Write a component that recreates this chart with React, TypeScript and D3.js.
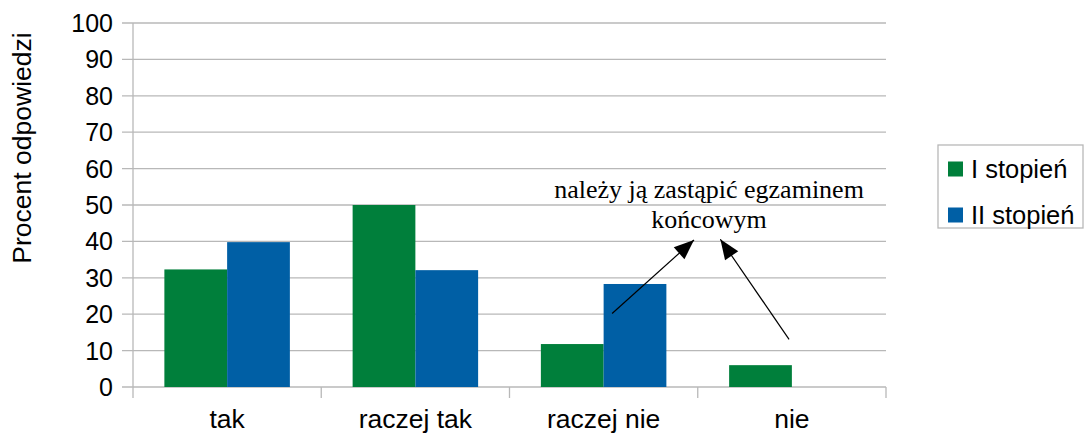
import React from "react";
import * as d3 from "d3";

const categories = ["tak", "raczej tak", "raczej nie", "nie"];
const seriesNames = ["I stopień", "II stopień"];
const seriesI = [32.3, 50, 11.8, 6];
const seriesII = [39.8, 32.1, 28.3, 0];
const yTicks = [0, 10, 20, 30, 40, 50, 60, 70, 80, 90, 100];
const colors = ["#007f3b", "#005fa5"];
const yLabel = "Procent odpowiedzi";
const noteLines = ["należy ją zastąpić egzaminem", "końcowym"];
// annotation anchors in (category units, value) space
const notePos = { cx: 3.06, y1: 51.9, y2: 43.6 };
const arrows = [
  { from: [2.545, 20.2], to: [2.98, 40.4] },
  { from: [3.485, 13.1], to: [3.12, 40.6] },
];

const W = 1084;
const H = 436;
const left = 133;
const right = 886;
const top = 23;
const bottom = 387;

export default function App() {
  const x0 = d3.scaleBand<string>().domain(categories).range([left, right]).padding(0);
  const x1 = d3
    .scaleBand<string>()
    .domain(seriesNames)
    .range([0, x0.bandwidth()])
    .paddingInner(0)
    .paddingOuter(0.5);
  const y = d3.scaleLinear().domain([0, 100]).range([bottom, top]);
  const xa = d3.scaleLinear().domain([0, 4]).range([left, right]);
  const values = [seriesI, seriesII];
  const grid = "#b8b8b8";
  const sans = "'Liberation Sans', Arial, sans-serif";
  const serif = "'Liberation Serif', 'Times New Roman', serif";

  const arrowHead = (fx: number, fy: number, tx: number, ty: number) => {
    const dx = tx - fx;
    const dy = ty - fy;
    const len = Math.sqrt(dx * dx + dy * dy);
    const ux = dx / len;
    const uy = dy / len;
    const hl = 20;
    const hw = 8;
    const bx = tx - ux * hl;
    const by = ty - uy * hl;
    return `${tx},${ty} ${bx - uy * hw},${by + ux * hw} ${bx + uy * hw},${by - ux * hw}`;
  };

  return (
    <div style={{ position: "absolute", left: 0, top: 0 }}>
      <svg width={W} height={H} style={{ display: "block", background: "#fff" }}>
        {/* gridlines & y ticks */}
        {yTicks.map((t) => (
          <g key={t}>
            <line x1={left - 11} x2={right} y1={y(t)} y2={y(t)} stroke={grid} strokeWidth={1.3} />
            <text
              x={113}
              y={y(t)}
              textAnchor="end"
              dominantBaseline="central"
              fontFamily={sans}
              fontSize={25}
              fill="#000"
            >
              {t}
            </text>
          </g>
        ))}
        {/* y axis line */}
        <line x1={left} x2={left} y1={top} y2={bottom + 11} stroke={grid} strokeWidth={1.3} />
        {/* category ticks */}
        {categories.map((c) => (
          <line
            key={c}
            x1={(x0(c) as number) + x0.bandwidth()}
            x2={(x0(c) as number) + x0.bandwidth()}
            y1={bottom}
            y2={bottom + 11}
            stroke={grid}
            strokeWidth={1.3}
          />
        ))}
        {/* bars */}
        {categories.map((c, i) => (
          <g key={c} transform={`translate(${x0(c)},0)`}>
            {seriesNames.map((s, j) => {
              const v = values[j][i];
              return (
                <rect
                  key={s}
                  x={x1(s)}
                  y={y(v)}
                  width={x1.bandwidth()}
                  height={y(0) - y(v)}
                  fill={colors[j]}
                />
              );
            })}
          </g>
        ))}
        {/* x labels */}
        {categories.map((c) => (
          <text
            key={c}
            x={(x0(c) as number) + x0.bandwidth() / 2}
            y={428}
            textAnchor="middle"
            fontFamily={sans}
            fontSize={26.5}
            fill="#000"
          >
            {c}
          </text>
        ))}
        {/* y label */}
        <text
          transform={`translate(22,148) rotate(-90)`}
          textAnchor="middle"
          dominantBaseline="central"
          fontFamily={sans}
          fontSize={26.5}
          fill="#000"
        >
          {yLabel}
        </text>
        {/* annotation */}
        <text
          x={xa(notePos.cx)}
          y={y(notePos.y1)}
          textAnchor="middle"
          fontFamily={serif}
          fontSize={26}
          fill="#000"
        >
          {noteLines[0]}
        </text>
        <text
          x={xa(notePos.cx)}
          y={y(notePos.y2)}
          textAnchor="middle"
          fontFamily={serif}
          fontSize={26}
          fill="#000"
        >
          {noteLines[1]}
        </text>
        {arrows.map((a, k) => {
          const fx = xa(a.from[0]);
          const fy = y(a.from[1]);
          const tx = xa(a.to[0]);
          const ty = y(a.to[1]);
          return (
            <g key={k}>
              <line x1={fx} y1={fy} x2={tx} y2={ty} stroke="#000" strokeWidth={1.2} />
              <polygon points={arrowHead(fx, fy, tx, ty)} fill="#000" />
            </g>
          );
        })}
        {/* legend */}
        <rect x={938} y={145} width={145} height={83} fill="#fff" stroke={grid} strokeWidth={1.3} />
        {seriesNames.map((s, j) => (
          <g key={s} transform={`translate(948,${169 + j * 46})`}>
            <rect x={0} y={-7.5} width={15} height={15} fill={colors[j]} />
            <text x={23} y={0} dominantBaseline="central" fontFamily={sans} fontSize={25.5} fill="#000">
              {s}
            </text>
          </g>
        ))}
      </svg>
    </div>
  );
}
